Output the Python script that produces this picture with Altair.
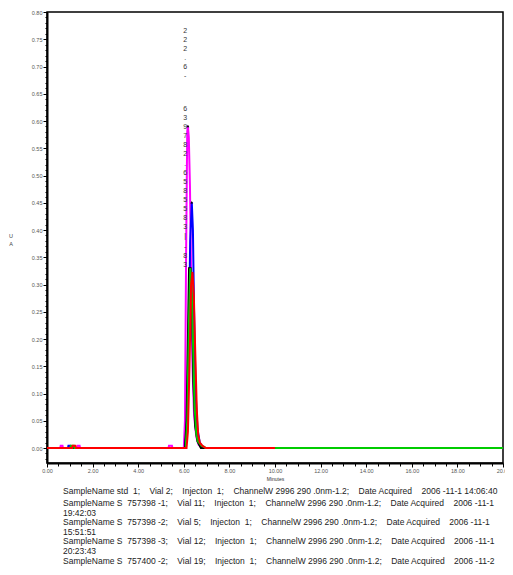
import altair as alt
import pandas as pd

# ---------------- data ----------------
series_names = ["std 1", "S 757398-1", "S 757398-2", "S 757398-3", "S 757400-2"]
series_colors = ["#FF00FF", "#0000FF", "#000000", "#00CC00", "#FF0000"]

magenta_t = [0.0, 0.58, 0.60, 0.68, 0.70, 1.33, 1.35, 1.43, 1.45, 5.33, 5.35, 5.48, 5.50,
             6.00, 6.05, 6.10, 6.15, 6.18, 6.22, 6.27, 6.32, 6.38, 6.45, 6.55, 6.65, 6.80, 10.0]
magenta_v = [0.0, 0.0, 0.004, 0.004, 0.0, 0.0, 0.004, 0.004, 0.0, 0.0, 0.004, 0.004, 0.0,
             0.0, 0.05, 0.35, 0.58, 0.591, 0.57, 0.48, 0.32, 0.15, 0.06, 0.02, 0.006, 0.0, 0.0]

blue_t = [0.0, 0.92, 0.94, 1.02, 1.04, 6.05, 6.12, 6.20, 6.28, 6.35, 6.40, 6.45, 6.52, 6.60,
          6.70, 6.80, 6.90, 10.0]
blue_v = [0.0, 0.0, 0.004, 0.004, 0.0, 0.0, 0.03, 0.15, 0.38, 0.451, 0.40, 0.25, 0.10, 0.035,
          0.01, 0.003, 0.0, 0.0]

black_t = [0.0, 6.05, 6.12, 6.18, 6.23, 6.30, 6.36, 6.42, 6.50, 6.60, 6.75, 10.0]
black_v = [0.0, 0.0, 0.05, 0.20, 0.33, 0.33, 0.25, 0.12, 0.04, 0.012, 0.0, 0.0]

green_t = [0.0, 1.02, 1.04, 1.18, 1.20, 6.08, 6.15, 6.22, 6.28, 6.34, 6.40, 6.47, 6.55, 6.62,
           6.70, 6.78, 6.90, 6.95, 20.0]
green_v = [0.0, 0.0, 0.004, 0.004, 0.0, 0.0, 0.05, 0.22, 0.33, 0.30, 0.20, 0.08, 0.025, 0.012,
           0.008, 0.004, 0.002, 0.0, 0.0]

red_t = [0.0, 1.10, 1.12, 1.25, 1.27, 6.12, 6.18, 6.25, 6.32, 6.38, 6.44, 6.50, 6.57, 6.63,
         6.70, 6.78, 6.85, 6.97, 10.0]
red_v = [0.0, 0.0, 0.004, 0.004, 0.0, 0.0, 0.03, 0.15, 0.30, 0.323, 0.28, 0.18, 0.07, 0.025,
         0.01, 0.006, 0.003, 0.0, 0.0]

series_t = [magenta_t, blue_t, black_t, green_t, red_t]
series_v = [magenta_v, blue_v, black_v, green_v, red_v]

# peak retention-time labels (stacked upright characters)
label_x = [6.06, 6.06, 6.06, 6.06]
label_y = [0.772, 0.630, 0.528, 0.376]
label_text = ["2\n2\n2\n.\n6\n\n-",
              "6\n3\n9\n7\n8\n2",
              ".\n6\n5\n8\n5\n5\n8\n3\n|",
              "-\n8\n3"]

apex_x = [6.18, 6.35]
apex_y = [0.591, 0.451]

x_ticks = [i * 0.5 for i in range(0, 41)]
y_ticks = [round(i * 0.01, 2) for i in range(-2, 81)]

S = "\u00a0"  # non-collapsing space
legend_first = ("SampleName std" + S * 2 + "1;" + S * 4 + "Vial 2;" + S * 4 + "Injecton" + S * 2 + "1;"
                + S * 4 + "ChannelW 2996 290 .0nm-1.2;" + S * 4 + "Date Acquired" + S * 4
                + "2006 -11-1 14:06:40")
legend_rest = [
    "SampleName S" + S * 2 + "757398 -1;" + S * 4 + "Vial 11;" + S * 4 + "Injecton" + S * 2 + "1;" + S * 4
    + "ChannelW 2996 290 .0nm-1.2;" + S * 4 + "Date Acquired" + S * 4 + "2006 -11-1",
    "19:42:03",
    "SampleName S" + S * 2 + "757398 -2;" + S * 4 + "Vial 5;" + S * 4 + "Injecton" + S * 2 + "1;" + S * 4
    + "ChannelW 2996 290 .0nm-1.2;" + S * 4 + "Date Acquired" + S * 4 + "2006 -11-1",
    "15:51:51",
    "SampleName S" + S * 2 + "757398 -3;" + S * 4 + "Vial 12;" + S * 4 + "Injecton" + S * 2 + "1;" + S * 4
    + "ChannelW 2996 290 .0nm-1.2;" + S * 4 + "Date Acquired" + S * 4 + "2006 -11-1",
    "20:23:43",
    "SampleName S" + S * 2 + "757400 -2;" + S * 4 + "Vial 19;" + S * 4 + "Injecton" + S * 2 + "1;" + S * 4
    + "ChannelW 2996 290 .0nm-1.2;" + S * 4 + "Date Acquired" + S * 4 + "2006 -11-2",
    "9:55:20",
]

# ---------------- chart ----------------
FONT = "Liberation Sans"

x_scale = alt.Scale(domain=[0, 20], nice=False, zero=False)
y_scale = alt.Scale(domain=[-0.0275, 0.80], nice=False, zero=False)

x_axis = alt.Axis(
    values=x_ticks,
    labelExpr="round(datum.value*10) % 20 == 0 ? format(datum.value, '.2f') : ''",
    tickSize={"condition": {"test": "round(datum.value*10) % 20 == 0", "value": 4}, "value": 3},
    title="Minutes", titleFontSize=5, titleFontWeight="normal", titlePadding=3,
    titleColor="#333", titleFont=FONT,
    labelFontSize=5.5, labelColor="#555", labelPadding=1, labelOverlap=False,
    labelFlush=False, labelFont=FONT,
    domainColor="black", domainWidth=2, tickColor="black", tickWidth=1, grid=False,
)
y_axis = alt.Axis(
    values=y_ticks,
    labelExpr="abs(round(datum.value*100) % 5) == 0 ? format(datum.value, '.2f') : ''",
    tickSize={"condition": {"test": "abs(round(datum.value*100) % 5) == 0", "value": 4}, "value": 2},
    title=None,
    labelFontSize=5.5, labelColor="#555", labelPadding=1, labelOverlap=False,
    labelFlush=False, labelFont=FONT,
    domainColor="black", domainWidth=2, tickColor="black", tickWidth=1, grid=False,
)


def X():
    return alt.X("t:Q", scale=x_scale, axis=x_axis)


def Y():
    return alt.Y("v:Q", scale=y_scale, axis=y_axis)


layers = []
for i, (name, col) in enumerate(zip(series_names, series_colors)):
    df = pd.DataFrame({"t": series_t[i], "v": series_v[i], "series": name})
    layers.append(
        alt.Chart(df).mark_line(color=col, strokeWidth=2).encode(x=X(), y=Y())
    )

apex_df = pd.DataFrame({"t": apex_x, "v": apex_y})
apex = alt.Chart(apex_df).mark_point(shape="triangle-up", filled=True, size=8,
                                     color="black", opacity=1).encode(x=X(), y=Y())

lab_df = pd.DataFrame({"t": label_x, "v": label_y, "txt": label_text})
labels = alt.Chart(lab_df).mark_text(
    font=FONT, fontSize=7, lineHeight=9, lineBreak="\n", align="center",
    baseline="top", color="#333").encode(x=X(), y=Y(), text="txt:N")

ytitle = alt.Chart(pd.DataFrame({"txt": ["U\nA"]})).mark_text(
    font=FONT, fontSize=5.5, lineHeight=8, lineBreak="\n", align="center",
    baseline="middle", color="#444").encode(
    x=alt.value(-36), y=alt.value(224), text="txt:N")

leg1 = alt.Chart(pd.DataFrame({"txt": [legend_first]})).mark_text(
    font=FONT, fontSize=8.5, align="left", baseline="middle", color="#222").encode(
    x=alt.value(16), y=alt.value(479), text="txt:N")

leg2 = alt.Chart(pd.DataFrame({"txt": ["\n".join(legend_rest)]})).mark_text(
    font=FONT, fontSize=8.5, lineHeight=9.6, lineBreak="\n", align="left",
    baseline="top", color="#222").encode(
    x=alt.value(16), y=alt.value(487), text="txt:N")

chart = alt.layer(*layers, apex, labels, ytitle, leg1, leg2).properties(
    width=456, height=451,
    autosize=alt.AutoSizeParams(type="none"),
    padding={"left": 39, "top": 4, "right": 2, "bottom": 104},
).configure_view(stroke="black", strokeWidth=1.5)

chart.save("out.html", embed_options={"renderer": "svg", "actions": False})
